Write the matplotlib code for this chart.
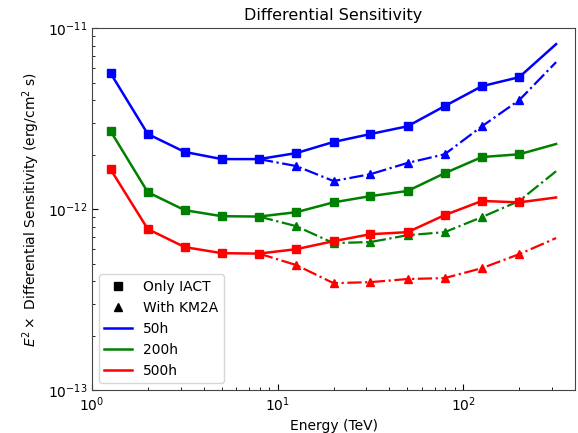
import numpy as np
import matplotlib
matplotlib.use("Agg")
import matplotlib.pyplot as plt
from matplotlib.lines import Line2D

# energias (TeV)
energia = [1.26, 2.0, 3.16, 5.01, 7.94, 12.6, 20.0, 31.6, 50.1, 79.4, 126, 200, 316]
energia_km2a = [7.94, 12.6, 20.0, 31.6, 50.1, 79.4, 126, 200, 316]

# Only IACT
iact_50h = [5.64e-12, 2.60e-12, 2.07e-12, 1.89e-12, 1.89e-12, 2.04e-12, 2.35e-12,
            2.60e-12, 2.87e-12, 3.71e-12, 4.78e-12, 5.36e-12, 8.16e-12]
iact_200h = [2.70e-12, 1.24e-12, 9.87e-13, 9.14e-13, 9.10e-13, 9.62e-13, 1.09e-12,
             1.18e-12, 1.26e-12, 1.58e-12, 1.94e-12, 2.01e-12, 2.29e-12]
iact_500h = [1.66e-12, 7.76e-13, 6.17e-13, 5.71e-13, 5.68e-13, 6.01e-13, 6.65e-13,
             7.27e-13, 7.46e-13, 9.27e-13, 1.11e-12, 1.09e-12, 1.16e-12]

# With KM2A
km2a_50h = [1.89e-12, 1.73e-12, 1.43e-12, 1.56e-12, 1.80e-12, 2.01e-12, 2.87e-12, 4.0e-12, 6.49e-12]
km2a_200h = [9.10e-13, 8.05e-13, 6.49e-13, 6.58e-13, 7.18e-13, 7.46e-13, 9.04e-13, 1.11e-12, 1.62e-12]
km2a_500h = [5.68e-13, 4.91e-13, 3.90e-13, 3.95e-13, 4.11e-13, 4.16e-13, 4.72e-13, 5.64e-13, 6.92e-13]

etiquetas = ['50h', '200h', '500h']
colores = ['blue', 'green', 'red']

fig = plt.figure(figsize=(5.78, 4.33), dpi=100)
ax = fig.add_axes([0.159, 0.099, 0.836, 0.836])

iact = [iact_50h, iact_200h, iact_500h]
km2a = [km2a_50h, km2a_200h, km2a_500h]

for c, y1, y2 in zip(colores, iact, km2a):
    # linea KM2A (dash-dot), sin marcador en el ultimo punto
    ax.plot(energia_km2a, y2, color=c, ls='-.', lw=1.6, marker='^', ms=5.5,
            markevery=list(range(1, len(y2) - 1)))
    ax.plot(energia, y1, color=c, ls='-', lw=1.8, marker='s', ms=5.8,
            markevery=list(range(len(y1) - 1)))

ax.set_xscale('log')
ax.set_yscale('log')
ax.set_xlim(1, 400)
ax.set_ylim(1e-13, 1e-11)
ax.tick_params(which='both', direction='in', labelsize=10)
ax.tick_params(which='major', length=4)
ax.tick_params(which='minor', length=2)
for s in ax.spines.values():
    s.set_color('#444444')

ax.set_title('Differential Sensitivity', fontsize=11.5)
ax.set_xlabel('Energy (TeV)', fontsize=10)
ax.set_ylabel(r'$E^2\times$ Differential Sensitivity (erg/cm$^2$ s)', fontsize=10)

handles = [
    Line2D([], [], color='black', ls='none', marker='s', ms=6),
    Line2D([], [], color='black', ls='none', marker='^', ms=6),
] + [Line2D([], [], color=c, lw=1.8) for c in colores]
ax.legend(handles, ['Only IACT', 'With KM2A'] + etiquetas, loc='lower left',
          fontsize=10)

fig.savefig('out.png', dpi=100)
